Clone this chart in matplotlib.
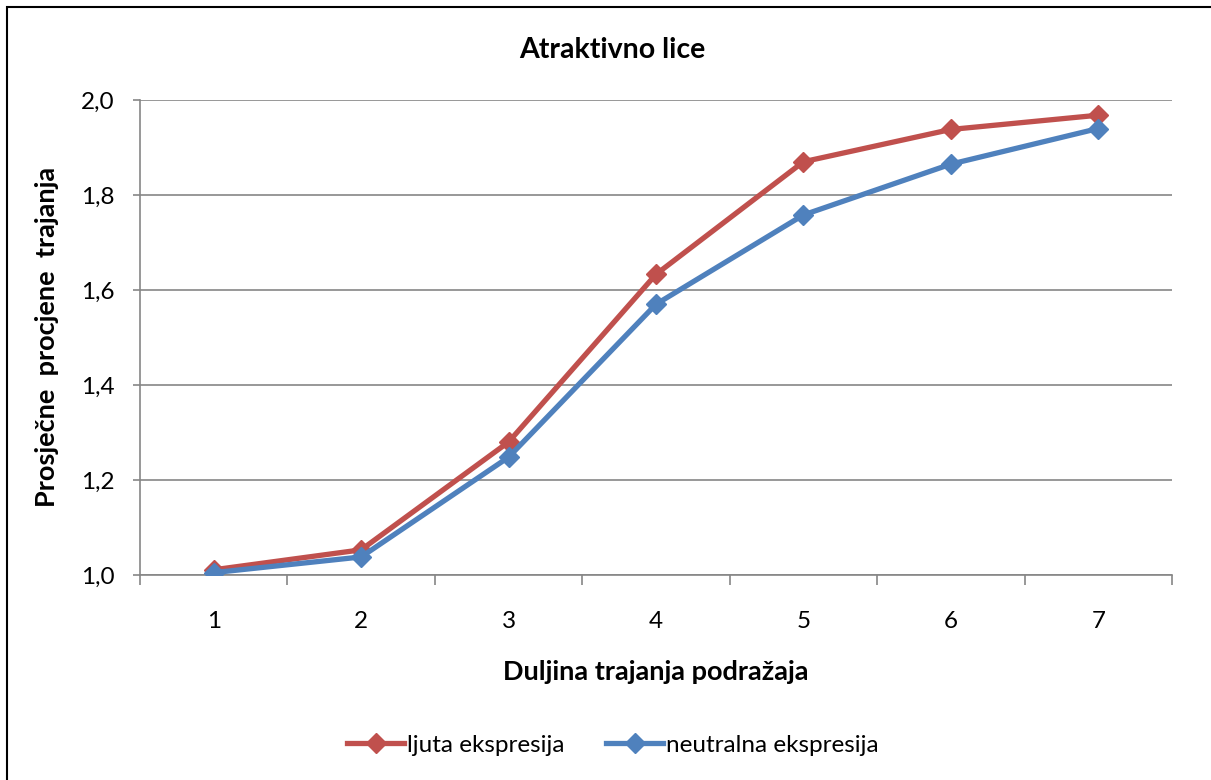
import matplotlib
matplotlib.use("Agg")
import matplotlib.pyplot as plt
from matplotlib.patches import Rectangle
from matplotlib.ticker import FuncFormatter, FixedLocator

plt.rcParams['font.family'] = ['Lato', 'DejaVu Sans']

categories = [1, 2, 3, 4, 5, 6, 7]
ljuta = [1.011, 1.053, 1.280, 1.633, 1.870, 1.938, 1.968]
neutralna = [1.005, 1.038, 1.248, 1.570, 1.758, 1.865, 1.940]
series_names = ["ljuta ekspresija", "neutralna ekspresija"]
title = "Atraktivno lice"
xlabel = "Duljina trajanja podražaja"
ylabel = "Prosječne  procjene  trajanja"

W, H = 1211, 780
fig = plt.figure(figsize=(W / 100, H / 100), dpi=100)
fig.patches.append(Rectangle((7 / W, -0.1), 1.2, 1 - 7 / H + 0.1, transform=fig.transFigure,
                             fill=False, edgecolor='black', linewidth=1.5))

ax = fig.add_axes([140 / W, 1 - 575 / H, 1032 / W, 475 / H])
red = '#C0504D'
blue = '#4F81BD'
ax.plot(categories, ljuta, color=red, lw=3.8, marker='D', markersize=10.5, label=series_names[0], zorder=3)
ax.plot(categories, neutralna, color=blue, lw=3.8, marker='D', markersize=10.5, label=series_names[1], zorder=4)

ax.set_xlim(0.5, 7.5)
ax.set_ylim(1.0, 2.0)
ax.set_yticks([1.0, 1.2, 1.4, 1.6, 1.8, 2.0])
ax.yaxis.set_major_formatter(FuncFormatter(lambda v, p: f"{v:.1f}".replace('.', ',')))
ax.set_xticks(categories)
ax.set_xticklabels([str(c) for c in categories])
ax.xaxis.set_minor_locator(FixedLocator([0.5 + i for i in range(8)]))
ax.tick_params(axis='x', which='major', length=0, labelsize=17.5, pad=26)
ax.tick_params(axis='x', which='minor', length=7, width=1.2, color='#868686', direction='out')
ax.tick_params(axis='y', length=5, width=1.2, color='#868686', direction='out', labelsize=17.5, pad=13)
ax.grid(axis='y', color='#868686', lw=1.2)
ax.set_axisbelow(True)
for s in ['top', 'right']:
    ax.spines[s].set_visible(False)
for s in ['left', 'bottom']:
    ax.spines[s].set_color('#868686')
    ax.spines[s].set_linewidth(1.2)

fig.text(612 / W, 1 - 50 / H, title, ha='center', va='center', fontsize=20.5, fontweight='bold')
fig.text(656 / W, 1 - 672 / H, xlabel, ha='center', va='center', fontsize=19.5, fontweight='bold')
fig.text(47 / W, 1 - 337 / H, ylabel, ha='center', va='center', rotation=90, fontsize=19.5, fontweight='bold')

leg = fig.legend(loc='center', bbox_to_anchor=(613 / W, 1 - 745 / H), ncol=2, frameon=False,
                 fontsize=17.5, handlelength=2.35, columnspacing=1.7, handletextpad=0.12,
                 borderpad=0, borderaxespad=0)

fig.savefig('out.png', dpi=100)
